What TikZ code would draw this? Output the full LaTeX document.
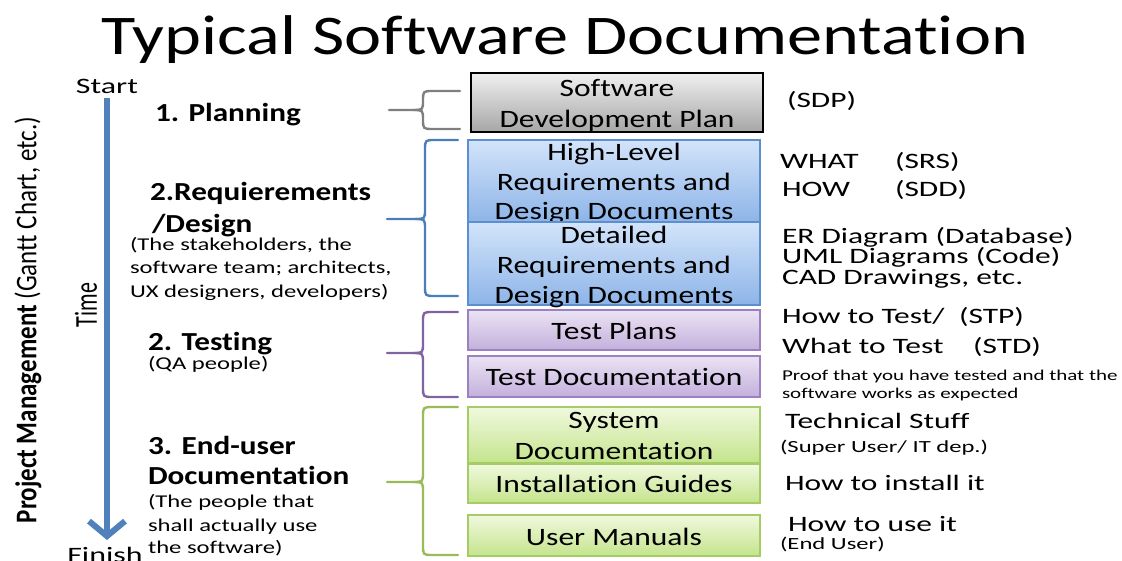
\documentclass[tikz,border=0pt]{standalone}
\usepackage{fontspec}
\setmainfont{Carlito}[Ligatures=NoCommon]
\usetikzlibrary{arrows.meta}
\definecolor{arrowblue}{HTML}{4F81BD}
\definecolor{bracegray}{HTML}{7F7F7F}
\definecolor{braceblue}{HTML}{4A7EBB}
\definecolor{bracepurple}{HTML}{8064A2}
\definecolor{bracegreen}{HTML}{9BBB59}
\definecolor{graytop}{HTML}{F0F0F0}
\definecolor{graybot}{HTML}{A6A6A6}
\definecolor{bluetop}{HTML}{D3E4FA}
\definecolor{bluebot}{HTML}{8DB4E8}
\definecolor{blueline}{HTML}{5B8FD0}
\definecolor{purptop}{HTML}{EBE3F4}
\definecolor{purpbot}{HTML}{C3B0DC}
\definecolor{purpline}{HTML}{9C80C4}
\definecolor{greentop}{HTML}{F0F9DE}
\definecolor{greenbot}{HTML}{C4E48C}
\definecolor{greenline}{HTML}{A6CC68}
\newcommand\curlybrace[7]{%
  \draw[brace,#1] (#4,#5) -- ({#3+10},#5) .. controls (#3,#5) .. (#3,{#5+10}) -- (#3,{#6-10}) .. controls (#3,#6) .. ({#3-10},#6) -- (#2,#6);
  \draw[brace,#1] ({#3-10},#6) .. controls (#3,#6) .. (#3,{#6+10}) -- (#3,{#7-10}) .. controls (#3,#7) .. ({#3+10},#7) -- (#4,#7);}
\begin{document}
\begin{tikzpicture}[x=1pt,y=-1pt,
  txt/.style={inner sep=0pt, outer sep=0pt},
  ttl/.style={txt, anchor=base, xscale=1.255, font=\fontsize{56}{60}\selectfont},
  lbig/.style={txt, anchor=base, xscale=1.45, font=\fontsize{22}{26}\selectfont},
  head/.style={txt, anchor=base west, xscale=1.2, font=\fontsize{26}{30}\selectfont\bfseries},
  lsm/.style={txt, anchor=base west, xscale=1.37, font=\fontsize{18}{22}\selectfont},
  bx/.style={txt, anchor=base, xscale=1.26, font=\fontsize{25}{30}\selectfont},
  rt/.style={txt, anchor=base west, xscale=1.43, font=\fontsize{22}{26}\selectfont},
  rsm/.style={txt, anchor=base west, xscale=1.45, font=\fontsize{17}{20}\selectfont},
  proof/.style={txt, anchor=base west, xscale=1.4, font=\fontsize{15}{18}\selectfont},
  brace/.style={line width=2.4pt, line cap=round, line join=round},
  docbox/.style={draw, line width=1.2pt, minimum width=292pt, inner sep=0pt, outer sep=0pt},
  graybox/.style={docbox, draw=black, top color=graytop, bottom color=graybot},
  bluebox/.style={docbox, draw=blueline, top color=bluetop, bottom color=bluebot},
  purplebox/.style={docbox, draw=purpline, top color=purptop, bottom color=purpbot},
  greenbox/.style={docbox, draw=greenline, top color=greentop, bottom color=greenbot},
  timearrow/.style={arrowblue, line width=6pt, -{Straight Barb[length=15pt,width=36pt]}}
]
\useasboundingbox (0,0) rectangle (1122,560);

% title
\node[ttl] (title) at (565,54) {Typical Software Documentation};

% left side
\node[txt, xscale=1.2, rotate=90, font=\fontsize{25}{30}\selectfont] (pm) at (28,320) {\textbf{Project Management} (Gantt Chart, etc.)};
\node[lbig] (start) at (107,93) {Start};
\node[lbig] (finish) at (105,562) {Finish};
\node[txt, xscale=1.45, rotate=90, font=\fontsize{22}{26}\selectfont] (time) at (86,305) {Time};
\coordinate (arrowtop) at (107,98);
\coordinate (arrowend) at (107,540);
\draw[timearrow] (arrowtop) -- (arrowend);

\node[head] (p1) at (155,121) {1. Planning};
\node[head] (r1) at (150,200) {2.Requierements};
\node[head] (r2) at (152,232) {/Design};
\node[lsm] (r3) at (130,250) {(The stakeholders, the};
\node[lsm] (r4) at (130,273) {software team; architects,};
\node[lsm] (r5) at (130,297) {UX designers, developers)};
\node[head] (t1) at (148,350) {2. Testing};
\node[lsm] (t2) at (148,369) {(QA people)};
\node[head] (e1) at (148,454) {3. End-user};
\node[head] (e2) at (148,484) {Documentation};
\node[lsm] (e3) at (148,507) {(The people that};
\node[lsm] (e4) at (148,531) {shall actually use};
\node[lsm] (e5) at (148,553) {the software)};

% braces
\curlybrace{bracegray}{389}{423}{460}{91}{110}{129}
\curlybrace{braceblue}{387}{425}{458}{140}{219}{296}
\curlybrace{bracepurple}{387}{423}{458}{312}{353}{397}
\curlybrace{bracegreen}{387}{423}{458}{407}{482}{555}

% boxes
\node[graybox, minimum height=59pt] (sdp) at (617,102.5) {};
\node[bx] (sdp1) at (617,96) {Software};
\node[bx] (sdp2) at (617,127) {Development Plan};

\node[bluebox, minimum height=82pt] (hl) at (614,181) {};
\node[bx] (hl1) at (614,160) {High-Level};
\node[bx] (hl2) at (614,190) {Requirements and};
\node[bx] (hl3) at (614,219) {Design Documents};

\node[bluebox, minimum height=83pt] (dd) at (614,263.5) {};
\node[bx] (dd1) at (614,243) {Detailed};
\node[bx] (dd2) at (614,273) {Requirements and};
\node[bx] (dd3) at (614,303) {Design Documents};

\node[purplebox, minimum height=40pt] (tp) at (614,330) {};
\node[bx] (tp1) at (614,339) {Test Plans};
\node[purplebox, minimum height=41pt] (td) at (614,376.5) {};
\node[bx] (td1) at (614,385) {Test Documentation};

\node[greenbox, minimum height=56pt] (sd) at (614,435) {};
\node[bx] (sd1) at (614,428) {System};
\node[bx] (sd2) at (614,459) {Documentation};
\node[greenbox, minimum height=39pt] (ig) at (614,483.5) {};
\node[bx] (ig1) at (614,492) {Installation Guides};
\node[greenbox, minimum height=41pt] (um) at (614,535.5) {};
\node[bx] (um1) at (614,545) {User Manuals};

% right side
\node[rt] (sdpabbr) at (787,107) {(SDP)};
\node[rt] (what) at (780,168) {WHAT};
\node[rt] (srs) at (895,168) {(SRS)};
\node[rt] (how) at (782,196) {HOW};
\node[rt] (sdd) at (895,196) {(SDD)};
\node[rt] (er) at (782,243) {ER Diagram (Database)};
\node[rt] (uml) at (782,263) {UML Diagrams (Code)};
\node[rt] (cad) at (782,284) {CAD Drawings, etc.};
\node[rt] (howt) at (782,323) {How to Test/};
\node[rt] (stp) at (959,323) {(STP)};
\node[rt] (whatt) at (782,353) {What to Test};
\node[rt] (std) at (973,353) {(STD)};
\node[proof] (pr1) at (782,380) {Proof that you have tested and that the};
\node[proof] (pr2) at (782,398) {software works as expected};
\node[rt] (tech) at (785,428) {Technical Stuff};
\node[rsm] (super) at (780,452) {(Super User/ IT dep.)};
\node[rt] (inst) at (785,490) {How to install it};
\node[rt] (use) at (788,531) {How to use it};
\node[rsm] (enduser) at (780,549) {(End User)};
\end{tikzpicture}
\end{document}
